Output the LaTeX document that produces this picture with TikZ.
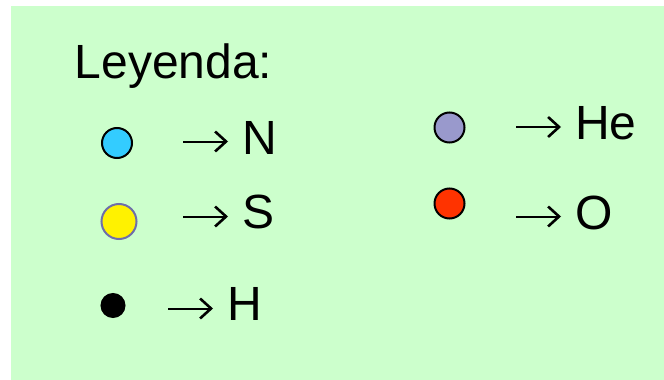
\documentclass[tikz,border=0pt]{standalone}
\usepackage{fontspec}
\setmainfont{Liberation Sans}
\usetikzlibrary{arrows.meta}
\definecolor{bgcol}{RGB}{204,255,204}
\definecolor{ncol}{RGB}{51,204,255}
\definecolor{hecol}{RGB}{153,153,204}
\definecolor{ocol}{RGB}{255,51,0}
\definecolor{yedge}{RGB}{110,110,170}
\tikzset{
  x=1pt,y=-1pt,
  lbl/.style={anchor=base west,inner sep=0pt,outer sep=0pt,font=\fontsize{48}{48}\selectfont,text=black},
  atom/.style={circle,draw=black,line width=2pt,inner sep=0pt,outer sep=0pt},
  conn/.style={draw=black,line width=2pt,-{Straight Barb[length=11pt,width=20pt,line width=2.6pt]}}
}
\begin{document}
\begin{tikzpicture}
\useasboundingbox (0,0) rectangle (664,380);
\fill[bgcol] (11,6) rectangle (664,380);
\node[lbl] (title) at (74.7,78.3) {Leyenda:};
\node[atom,fill=ncol,minimum size=30pt] (cn) at (117,143) {};
\node[atom,fill=yellow,draw=yedge,minimum size=35pt] (cs) at (119,221.5) {};
\node[atom,fill=black,minimum size=23pt] (ch) at (113,305.5) {};
\node[atom,fill=hecol,minimum size=30pt] (che) at (449.5,127.5) {};
\node[atom,fill=ocol,minimum size=30pt] (co) at (449.5,203.5) {};
\node[lbl] (ln) at (242.5,154) {N};
\node[lbl] (ls) at (242.8,228.5) {S};
\node[lbl] (lh) at (227,320.7) {H};
\node[lbl] (lhe) at (575.2,139) {He};
\node[lbl] (lo) at (575.2,229.5) {O};
\coordinate (an) at (183,141.5); \coordinate (bn) at (228,141.5);
\coordinate (as) at (183,216.5); \coordinate (bs) at (228,216.5);
\coordinate (ah) at (168,308.5); \coordinate (bh) at (213,308.5);
\coordinate (ahe) at (516,127); \coordinate (bhe) at (561,127);
\coordinate (ao) at (516,216.5); \coordinate (bo) at (561,216.5);
\draw[conn] (an) -- (bn);
\draw[conn] (as) -- (bs);
\draw[conn] (ah) -- (bh);
\draw[conn] (ahe) -- (bhe);
\draw[conn] (ao) -- (bo);
\end{tikzpicture}
\end{document}
